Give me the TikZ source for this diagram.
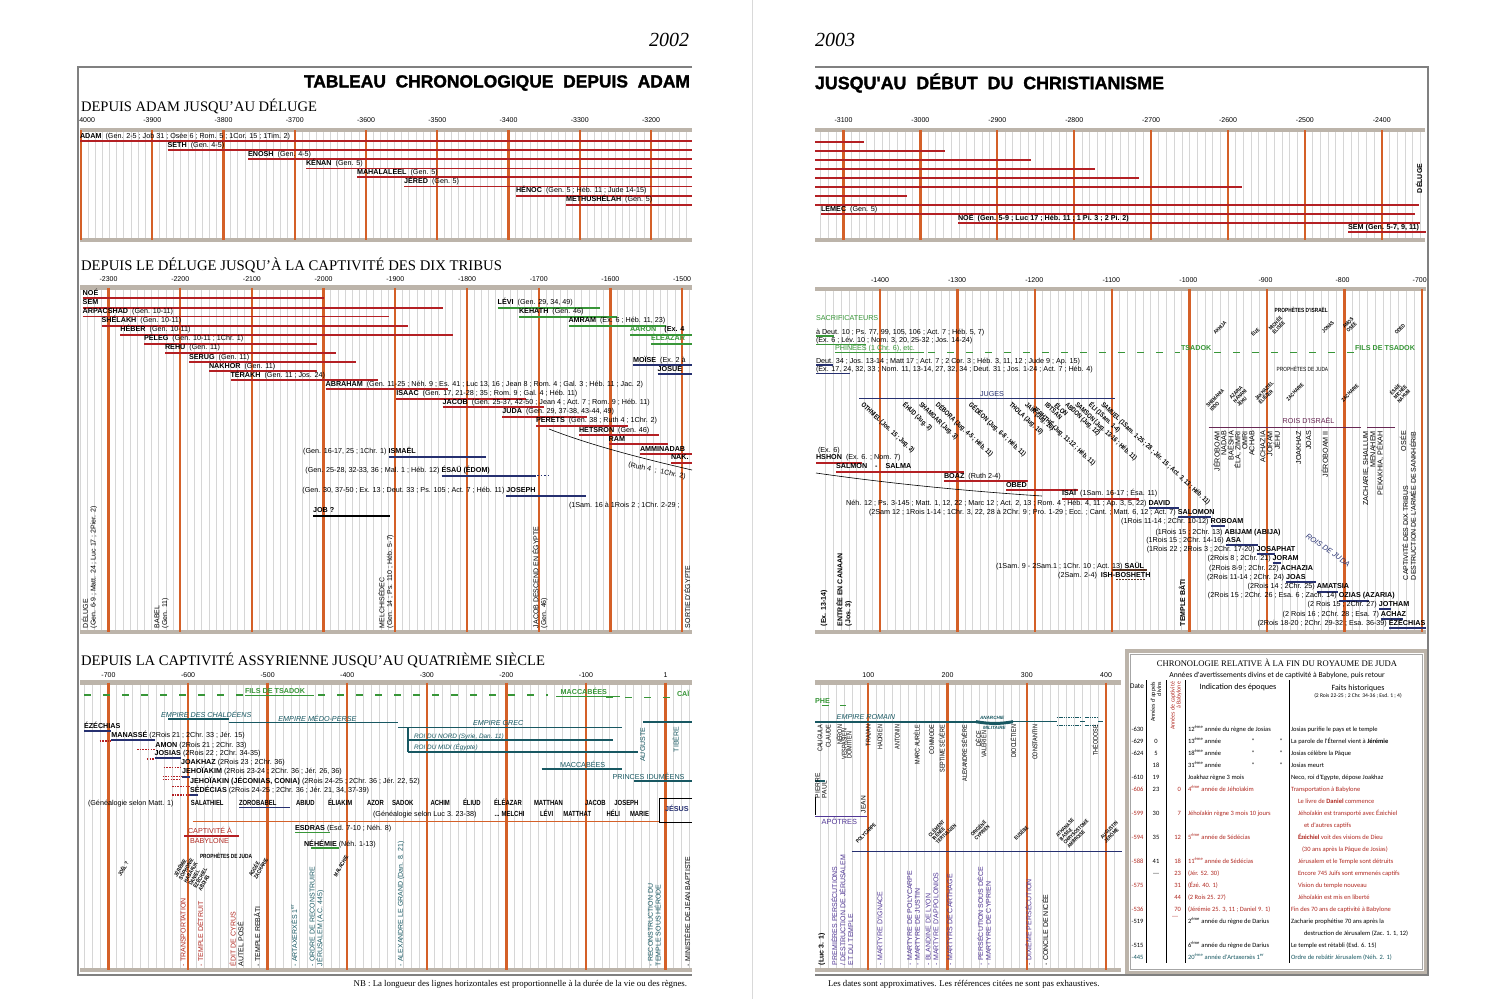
\documentclass[tikz,border=0pt]{standalone}
\usepackage{fontspec}
\usepackage{graphicx}
\setmainfont{Liberation Serif}
\newfontfamily\ls{Liberation Sans}
\newfontfamily\lsc{Liberation Sans}[FakeStretch=0.8]
\newfontfamily\tabf{Carlito}
\newfontfamily\heavy{Liberation Sans}[FakeBold=1.6]
\definecolor{org}{RGB}{212,96,40}
\definecolor{dred}{RGB}{180,32,36}
\definecolor{grn}{RGB}{56,150,56}
\definecolor{navy}{RGB}{38,48,112}
\definecolor{tealc}{RGB}{24,88,98}
\definecolor{purp}{RGB}{82,56,150}
\definecolor{plum}{RGB}{104,40,84}
\definecolor{barc}{RGB}{188,180,170}
\definecolor{gridc}{RGB}{214,214,214}
\definecolor{framec}{RGB}{128,128,128}
\definecolor{tred}{RGB}{176,40,32}
\definecolor{brn}{RGB}{90,50,30}
\newcommand\lf[5]{\draw[#1] (#2,#4) -- (#3,#4); \node[lbl] at (#2,#4-2.8) {#5};}
\newcommand\band[7]{\foreach \i in {0,...,#3} {\draw[gridl] ({#1+\i*#2},#4) -- ({#1+\i*#2},#5);} \draw[bar] (#6,#4) -- (#7,#4); \draw[bar] (#6,#5) -- (#7,#5);}
\newcommand\cents[5]{\foreach \i in {0,...,#3} {\draw[cent] ({#1+\i*#2},#4) -- ({#1+\i*#2},#5);}}
\newcommand\axisl[4]{\foreach \v [count=\i from 0] in {#4} {\node[axl] at ({#1+\i*#2},#3) {\v};}}
\newcommand\trow[8]{%
 \node[tbe,text=#2] at (1143.5,#1) {#3};
 \node[tbc] at (1156,#1) {#4};
 \node[tbe,text=tred] at (1181,#1) {#5};
 \node[tb,text=#2] at (1188,#1) {#6};
 \node[tb,text=#2] at (#7,#1) {#8};}
\begin{document}
\begin{tikzpicture}[x=1pt,y=-1pt,
 every node/.style={inner sep=0pt,outer sep=0pt},
 gridl/.style={gridc,line width=0.55pt},
 bar/.style={barc,line width=4.5pt},
 cent/.style={org,line width=2.3pt},
 rl/.style={dred,line width=2pt},
 rlt/.style={dred,line width=1.1pt},
 gl/.style={grn,line width=1.8pt},
 bl/.style={navy,line width=1.8pt},
 blk/.style={black,line width=1.8pt},
 tl/.style={tealc,line width=1.6pt},
 pl/.style={purp,line width=1.4pt},
 rdot/.style={dred,line width=1.3pt,dash pattern=on 1.5pt off 1.2pt},
 gdash/.style={grn,line width=1.2pt,dash pattern=on 7pt off 12pt},
 lbl/.style={font=\ls\fontsize{7.2}{8.5}\selectfont,anchor=base west},
 lble/.style={lbl,anchor=base east},
 axl/.style={font=\ls\fontsize{7}{8}\selectfont},
 vl/.style={font=\ls\fontsize{7}{7.8}\selectfont,rotate=90,anchor=west,align=left},
 vh/.style={font=\ls\fontsize{7.2}{7.6}\selectfont,rotate=90,anchor=east,align=right},
 vhc/.style={font=\lsc\fontsize{6.8}{7.2}\selectfont,rotate=90,anchor=east,align=right},
 dg/.style={font=\lsc\bfseries\fontsize{5.3}{5.3}\selectfont,rotate=45,align=left},
 dgs/.style={font=\lsc\bfseries\fontsize{5.6}{5.6}\selectfont,rotate=60,align=left},
 jd/.style={font=\lsc\bfseries\fontsize{6.9}{7}\selectfont,rotate=-43,anchor=west},
 gen/.style={lbl,font=\lsc\bfseries\fontsize{7.4}{8}\selectfont},
 tb/.style={font=\tabf\fontsize{6.5}{7}\selectfont,anchor=base west},
 tbe/.style={tb,anchor=base east},
 tbc/.style={tb,anchor=base}]
\useasboundingbox (0,0) rectangle (1499,999);
\fill[white] (0,0) rectangle (1499,999);
\draw[gray!30,line width=1pt] (752,0) -- (752,999);

% ================= LEFT PAGE =================
\node[font=\itshape\fontsize{20}{22}\selectfont,anchor=east] at (689,40) {2002};
\node[anchor=east] at (690,83) {\resizebox{386pt}{!}{\heavy\bfseries TABLEAU~~CHRONOLOGIQUE~~DEPUIS~~ADAM}};
\begin{scope}
\clip (70,60) rectangle (692,999);
% ---- band 1
\node[anchor=west] at (81,106) {\resizebox{236pt}{!}{\fontsize{12}{14}\selectfont DEPUIS ADAM JUSQU'AU DÉLUGE}};
\band{81}{7.125}{85}{130}{240}{80}{692}
\cents{81}{71.25}{8}{130}{240}
\node[axl,anchor=west] at (77,120) {-4000};
\axisl{152.25}{71.25}{120}{-3900,-3800,-3700,-3600,-3500,-3400,-3300,-3200}
\lf{rl}{80}{692}{141}{\textbf{ADAM}\ \ (Gen. 2-5 ; Job 31 ; Osée 6 ; Rom. 5 ; 1Cor. 15 ; 1Tim. 2)}
\lf{rl}{167.6}{692}{150}{\textbf{SETH}\ \ (Gen. 4-5)}
\lf{rl}{248}{692}{159.3}{\textbf{ENOSH}\ \ (Gen. 4-5)}
\lf{rlt}{306}{692}{168.4}{\textbf{KÉNAN}\ \ (Gen. 5)}
\lf{rl}{357}{692}{177.4}{\textbf{MAHALALEEL}\ \ (Gen. 5)}
\lf{rlt}{404}{692}{186.5}{\textbf{JÉRED}\ \ (Gen. 5)}
\lf{rl}{516}{692}{195.6}{\textbf{HÉNOC}\ \ (Gen. 5 ; Héb. 11 ; Jude 14-15)}
\lf{rl}{566}{692}{204.7}{\textbf{METHUSHÉLAH}\ \ (Gen. 5)}
% ---- band 2
\node[anchor=west] at (81,265) {\resizebox{421pt}{!}{\fontsize{12}{14}\selectfont DEPUIS LE DÉLUGE JUSQU'À LA CAPTIVITÉ DES DIX TRIBUS}};
\band{79.8}{7.17}{85}{287.5}{632}{80}{692}
\cents{108.5}{71.7}{8}{287.5}{632}
\axisl{108.5}{71.7}{279}{-2300,-2200,-2100,-2000,-1900,-1800,-1700,-1600,-1500}
\lf{rl}{82.7}{323.6}{298.3}{\textbf{NOÉ}}
\lf{rl}{82.7}{442.7}{307.7}{\textbf{SEM}}
\lf{rlt}{82.7}{388.5}{316.7}{\textbf{ARPACSHAD}\ \ (Gen. 10-11)}
\lf{rl}{101.6}{408}{325.7}{\textbf{SHÉLAKH}\ \ (Gen. 10-11)}
\lf{rl}{120.4}{453.3}{334.7}{\textbf{HÉBER}\ \ (Gen. 10-11)}
\lf{rl}{144}{317}{343.7}{\textbf{PÉLEG}\ \ (Gen. 10-11 ; 1Chr. 1)}
\lf{rl}{165}{336}{352.7}{\textbf{REHU}\ \ (Gen. 11)}
\lf{rlt}{189}{355.5}{362}{\textbf{SERUG}\ \ (Gen. 11)}
\lf{rlt}{209}{317}{371}{\textbf{NAKHOR}\ \ (Gen. 11)}
\lf{rl}{230.5}{377.5}{380.3}{\textbf{TÉRAKH}\ \ (Gen. 11 ; Jos. 24)}
\lf{rl}{325.6}{448}{389.3}{\textbf{ABRAHAM}\ \ (Gen. 11-25 ; Néh. 9 ; Es. 41 ; Luc 13, 16 ; Jean 8 ; Rom. 4 ; Gal. 3 ; Héb. 11 ; Jac. 2)}
\lf{rl}{396.3}{526}{398.7}{\textbf{ISAAC}\ \ (Gen. 17, 21-28 ; 35 ; Rom. 9 ; Gal. 4 ; Héb. 11)}
\lf{rl}{442.7}{543.7}{407.3}{\textbf{JACOB}\ \ (Gen. 25-37, 42-50 ; Jean 4 ; Act. 7 ; Rom. 9 ; Héb. 11)}
\lf{rl}{502.4}{587.3}{416.7}{\textbf{JUDA}\ \ (Gen. 29, 37-38, 43-44, 49)}
\lf{rl}{536}{628}{425.7}{\textbf{PERETS}\ \ (Gen. 38 ; Ruth 4 ; 1Chr. 2)}
\lf{rl}{579}{659}{435}{\textbf{HETSRON}\ \ (Gen. 46)}
\lf{rlt}{608.6}{667.6}{444}{\textbf{RAM}}
\lf{rl}{640}{692}{454}{\textbf{AMMINADAB}}
\lf{rl}{671}{692}{462.7}{\textbf{NAK.}}
\lf{gl}{497.7}{600}{307.7}{\textbf{LÉVI}\ \ (Gen. 29, 34, 49)}
\lf{gl}{519}{617}{316.7}{\textbf{KEHATH}\ \ (Gen. 46)}
\lf{gl}{568.5}{666}{325.7}{\textbf{AMRAM}\ \ (Ex. 6 ; Héb. 11, 23)}
\lf{gl}{630}{692}{334.7}{\textcolor{grn}{\textbf{AARON}}\ \ \ \ \textbf{(Ex. 4}}
\lf{gl}{651}{692}{343.7}{\textcolor{grn}{\textbf{ÉLÉAZAR}}}
\lf{bl}{633}{692}{365.3}{\textbf{MOÏSE}\ \ (Ex. 2 à}
\lf{bl}{657.7}{692}{374.3}{\textbf{JOSUÉ}}
\draw[black,line width=0.6pt] (549,429) .. controls (590,445) and (640,458) .. (692,470);
\node[font=\ls\fontsize{7}{8}\selectfont,rotate=-12] at (657,471) {(Ruth 4~ ;~ 1Chr. 2)};
\node[lble] at (386.5,453.9) {(Gen. 16-17, 25 ; 1Chr. 1)};
\lf{bl}{388.5}{486}{456.7}{\textbf{ISMAËL}}
\node[lble] at (439.5,472.9) {(Gen. 25-28, 32-33, 36 ; Mal. 1 ; Héb. 12)};
\lf{bl}{441.5}{536}{475.7}{\textbf{ÉSAÜ (ÉDOM)}}
\draw[navy,line width=1.2pt,dash pattern=on 1.5pt off 2pt] (537,475.7) -- (551,475.7);
\node[lble] at (504.4,492.9) {(Gen. 30, 37-50 ; Ex. 13 ; Deut. 33 ; Ps. 105 ; Act. 7 ; Héb. 11)};
\lf{bl}{506.4}{585.8}{495.7}{\textbf{JOSEPH}}
\node[lbl] at (569,507.5) {(1Sam. 16 à 1Rois 2 ; 1Chr. 2-29 ;};
\lf{blk}{313}{390.4}{515.7}{\textbf{JOB ?}}
\node[vl] at (89.5,628) {DÉLUGE\\(Gen. 6-9 ; Matt. 24 ; Luc 17 ; 2Pier. 2)};
\node[vl] at (161.5,628) {BABEL\\(Gen. 11)};
\node[vl] at (386,628) {MELCHISÉDEC\\(Gen. 14 ; Ps. 110 ; Héb. 5-7)};
\node[vl] at (540,628) {JACOB DESCEND EN ÉGYPTE\\(Gen. 46)};
\node[vl] at (687,628) {SORTIE D'ÉGYPTE};
% ---- band 3
\node[anchor=west] at (81,660) {\resizebox{464pt}{!}{\fontsize{12}{14}\selectfont DEPUIS LA CAPTIVITÉ ASSYRIENNE JUSQU'AU QUATRIÈME SIÈCLE}};
\band{84.6}{7.957}{76}{682.5}{970}{80}{692}
\cents{108.5}{79.57}{7}{682.5}{970}
\axisl{108.5}{79.57}{675}{-700,-600,-500,-400,-300,-200,-100,1}
\draw[gdash] (84,695) -- (243,695);
\draw[gdash] (318,695) -- (548,695);
\draw[gdash] (606,697.5) -- (672,697.5);
\node[lbl,text=grn,font=\ls\bfseries\fontsize{7.2}{8}\selectfont] at (245,693.5) {FILS DE TSADOK};
\draw[grn,line width=1pt] (245,695) -- (314,695);
\node[lbl,text=grn,font=\ls\bfseries\fontsize{7.2}{8}\selectfont] at (560.6,694.5) {MACCABÉES};
\draw[grn,line width=1pt] (556,696.5) -- (620,696.5);
\node[lbl,text=grn,font=\ls\bfseries\fontsize{7.2}{8}\selectfont] at (677,696) {CAÏ};
% empires
\draw[tl] (168.4,719) -- (229.3,719);
\node[lbl,text=tealc,font=\ls\itshape\fontsize{7.2}{8}\selectfont] at (161,717) {EMPIRE DES CHALDÉENS};
\draw[tl] (228.5,722.3) -- (398.3,722.3);
\node[lbl,text=tealc,font=\ls\itshape\fontsize{7.2}{8}\selectfont] at (278.4,721) {EMPIRE MÉDO-PERSE};
\draw[tl] (398.3,727.3) -- (621.5,727.3);
\node[lbl,text=tealc,font=\ls\itshape\fontsize{7.2}{8}\selectfont] at (473,725.6) {EMPIRE GREC};
\draw[tl] (643,721.7) -- (692,721.7);
\draw[tl] (408,727.3) -- (408,751.7);
\draw[tl] (408,740) -- (612.5,740);
\node[lbl,text=tealc,font=\ls\itshape\fontsize{6.4}{7}\selectfont] at (414,738.2) {ROI DU NORD (Syrie, Dan. 11)};
\draw[tl] (408,751.7) -- (638,751.7);
\node[lbl,text=tealc,font=\ls\itshape\fontsize{6.4}{7}\selectfont] at (414,749.8) {ROI DU MIDI (Égypte)};
\draw[tl] (541.7,769) -- (622,769);
\node[lbl,text=tealc] at (560,767.3) {MACCABÉES};
\draw[tl] (634,781) -- (692,781);
\node[lbl,text=tealc] at (612.5,779) {PRINCES IDUMÉENS};
\node[vl,text=tealc] at (642.7,761.7) {AUGUSTE};
\node[vl,text=tealc] at (675.5,752) {TIBÈRE};
% kings of Juda
\lf{bl}{84}{111.4}{731}{\textbf{ÉZÉCHIAS}}
\draw[rdot] (99.6,741) -- (111.4,741);
\lf{bl}{111.4}{154.6}{740}{\textbf{MANASSÉ} (2Rois 21 ; 2Chr. 33 ; Jér. 15)}
\draw[rdot] (137,749.3) -- (154.6,749.3);
\node[lbl] at (155.4,747.6) {\textbf{AMON} (2Rois 21 ; 2Chr. 33)};
\draw[rdot] (146.8,759) -- (154.6,759);
\lf{bl}{154.6}{181}{758.3}{\textbf{JOSIAS} (2Rois 22 ; 2Chr. 34-35)};
\draw[rdot] (163.7,767.3) -- (181,767.3);
\node[lbl] at (181,764.3) {\textbf{JOAKHAZ} (2Rois 23 ; 2Chr. 36)};
\draw[rdot] (162.5,776.7) -- (182,776.7);
\lf{bl}{182}{190}{776.7}{\textbf{JEHOÏAKIM} (2Rois 23-24 ; 2Chr. 36 ; Jér. 26, 36)}
\draw[rdot] (162.5,779.5) -- (180,779.5);
\node[lbl] at (190,783.6) {\textbf{JEHOÏAKIN (JÉCONIAS, CONIA)} (2Rois 24-25 ; 2Chr. 36 ; Jér. 22, 52)};
\draw[rdot] (172,786.7) -- (190,786.7);
\draw[rdot] (172,795) -- (190,795);
\lf{bl}{190}{198}{795}{\textbf{SÉDÉCIAS} (2Rois 24-25 ; 2Chr. 36 ; Jér. 21, 34, 37-39)}
% genealogies
\node[lbl] at (88,805.3) {(Généalogie selon Matt. 1)};
\node[gen] at (190.8,805.3) {SALATHIEL};
\node[gen] at (239,805.3) {ZOROBABEL};
\draw[navy,line width=1.4pt] (239,807.5) -- (290,807.5);
\node[gen] at (296,805.3) {ABIUD};
\node[gen] at (328,805.3) {ÉLIAKIM};
\node[gen] at (367,805.3) {AZOR};
\node[gen] at (392,805.3) {SADOK};
\node[gen] at (430.5,805.3) {ACHIM};
\node[gen] at (463,805.3) {ÉLIUD};
\node[gen] at (494,805.3) {ÉLÉAZAR};
\node[gen] at (534,805.3) {MATTHAN};
\node[gen] at (585,805.3) {JACOB};
\node[gen] at (614.4,805.3) {JOSEPH};
\node[lbl] at (373,816.8) {(Généalogie selon Luc 3. 23-38)};
\node[gen] at (494.6,816.8) {... MELCHI};
\node[gen] at (540,816.8) {LÉVI};
\node[gen] at (563.4,816.8) {MATTHAT};
\node[gen] at (606.6,816.8) {HÉLI};
\node[gen] at (630,816.8) {MARIE};
\draw[org,line width=1.5pt] (192.8,821.7) -- (659,821.7);
\draw[black,line width=1pt] (692,798) -- (659,798) -- (659,822) -- (692,822);
\node[lbl,text=navy,font=\ls\bfseries\fontsize{7.2}{8}\selectfont] at (665,811.5) {JÉSUS};
% lower band 3
\draw[dred,line width=1.6pt] (184,835.7) -- (239,835.7);
\node[lbl,text=tred] at (188,833.3) {CAPTIVITÉ À};
\node[lbl,text=tred] at (190,843.6) {BABYLONE};
\draw[grn,line width=1.5pt] (295,832.5) -- (329.5,832.5);
\node[lbl] at (295,830.6) {\textbf{ESDRAS} (Esd. 7-10 ; Néh. 8)};
\draw[grn,line width=1.5pt] (311,848) -- (339,848);
\node[lbl] at (304,846) {\textbf{NÉHÉMIE} (Néh. 1-13)};
\node[lbl,font=\lsc\bfseries\fontsize{6}{7}\selectfont] at (200,858) {PROPHÈTES DE JUDA};
\node[dgs] at (123,869) {JOËL ?};
\node[dgs] at (193,873) {JÉRÉMIE\\SOPHONIE\\HABAKUK\\DANIEL\\ÉZÉCHIEL\\ABDIAS};
\node[dgs] at (258,867) {AGGÉE\\ZACHARIE};
\node[dgs] at (341,866) {MALACHIE};
\node[vl,text=tred] at (183.3,966) {- TRANSPORTATION};
\node[vl,text=tred] at (200,966) {- TEMPLE DÉTRUIT};
\node[vl] at (236.4,966) {\textcolor{tred}{ÉDIT DE CYRUS}\\AUTEL POSÉ};
\node[vl] at (257,966) {- TEMPLE REBÂTI};
\node[vl,text=tealc] at (294,966) {- ARTAXERXÈS 1\textsuperscript{er}};
\node[vl,text=tealc] at (316.7,966) {- ORDRE DE RECONSTRUIRE\\JÉRUSALEM (A.C. 445)};
\node[vl,text=tealc] at (401,966) {- ALEXANDRE LE GRAND (Dan. 8. 21)};
\node[vl,text=tealc] at (654.4,966) {- RECONSTRUCTION DU\\TEMPLE SOUS HÉRODE};
\node[vl] at (687,966) {- MINISTÈRE DE JEAN BAPTISTE};
\end{scope}
\node[font=\fontsize{8.8}{10}\selectfont,anchor=east] at (687,984) {NB : La longueur des lignes horizontales est proportionnelle à la durée de la vie ou des règnes.};
\draw[framec,line width=1.6pt] (692,67) -- (78,67) -- (78,975) -- (692,975);

% ================= RIGHT PAGE =================
\node[font=\itshape\fontsize{20}{22}\selectfont,anchor=west] at (815,40) {2003};
\node[anchor=west] at (815,83) {\resizebox{349pt}{!}{\heavy\bfseries JUSQU'AU~~DÉBUT~~DU~~CHRISTIANISME}};
\begin{scope}
\clip (812,60) rectangle (1430,999);
% ---- band 1
\band{820.4}{7.69}{78}{130}{240}{815}{1425}
\cents{843.5}{76.9}{7}{130}{240}
\axisl{843.5}{76.9}{120}{-3100,-3000,-2900,-2800,-2700,-2600,-2500,-2400}
\draw[rl] (815,141.6) -- (864,141.6);
\draw[rl] (815,150.7) -- (945,150.7);
\draw[rl] (815,159.8) -- (1030.6,159.8);
\draw[rl] (815,168.8) -- (1095,168.8);
\draw[rl] (815,177.9) -- (1139,177.9);
\draw[rl] (815,187) -- (1241.6,187);
\draw[rl] (815,196) -- (907,196);
\draw[rl] (815,205.1) -- (1419,205.1);
\lf{rl}{821}{1415}{214.2}{\textbf{LEMEC}\ \ (Gen. 5)}
\lf{rl}{958}{1420}{223}{\textbf{NOÉ\ \ (Gen. 5-9 ; Luc 17 ; Héb. 11 ;\ 1 Pi. 3 ; 2 Pi. 2)}}
\lf{rl}{1348}{1426}{232}{\textbf{SEM (Gen. 5-7, 9, 11)}}
\node[vl,font=\ls\bfseries\fontsize{7}{8}\selectfont] at (1419,193) {DÉLUGE};
% ---- band 2
\band{825.6}{7.74}{77}{289}{632}{815}{1426}
\cents{880}{77.4}{7}{289}{632}
\axisl{880}{77.1}{280.5}{-1400,-1300,-1200,-1100,-1000,-900,-800,-700}
\node[lbl,text=grn] at (816,320.8) {SACRIFICATEURS};
\node[lbl] at (816,334.2) {à Deut. 10 ; Ps. 77, 99, 105, 106 ; Act. 7 ; Héb. 5, 7)};
\draw[grn,line width=1.3pt] (816,336) -- (834,336);
\node[lbl] at (816,342.5) {(Ex. 6 ; Lév. 10 ; Nom. 3, 20, 25-32 ; Jos. 14-24)};
\draw[grn,line width=1.3pt] (816,344.5) -- (866,344.5);
\node[lbl,text=grn] at (835,350.5) {PHINÉES (1 Chr. 6), etc.};
\draw[grn,line width=1pt] (835,352.3) -- (924,352.3);
\draw[gdash] (928,352.3) -- (1180,352.3);
\node[lbl,text=grn,font=\ls\bfseries\fontsize{7.2}{8}\selectfont] at (1181,350.8) {TSADOK};
\draw[gdash] (1214,352.3) -- (1354,352.3);
\node[lbl,text=grn,font=\ls\bfseries\fontsize{7.2}{8}\selectfont] at (1355,350.8) {FILS DE TSADOK};
\node[lbl] at (816,363.2) {Deut. 34 ; Jos. 13-14 ; Matt 17 ; Act. 7 ; 2 Cor. 3 ; Héb. 3, 11, 12 ; Jude 9 ; Ap. 15)};
\draw[navy,line width=1.3pt] (816,365) -- (833,365);
\node[lbl] at (816,371.5) {(Ex. 17, 24, 32, 33 ; Nom. 11, 13-14, 27, 32, 34 ; Deut. 31 ; Jos. 1-24 ; Act. 7 ; Héb. 4)};
\draw[navy,line width=1.3pt] (816,373.5) -- (850,373.5);
\node[lbl,font=\lsc\bfseries\fontsize{6}{7}\selectfont] at (1274.7,312.5) {PROPHÈTES D'ISRAËL};
\node[lbl,font=\lsc\fontsize{6}{7}\selectfont] at (1276.7,371.5) {PROPHÈTES DE JUDA};
\node[dg] at (1220,328) {AKHIJA};
\node[dg] at (1255,332) {ÉLIE};
\node[dg] at (1277,325) {MICHÉE\\ÉLISÉE};
\node[dg] at (1328,327) {JONAS};
\node[dg] at (1350,325) {AMOS\\OSÉE};
\node[dg] at (1400,329) {ODED};
\node[dg] at (1217,400) {SHEMAHIA\\IDDO};
\node[dg] at (1240,396) {AZARIA\\HANANI\\JÉHU};
\node[dg] at (1266,393) {JAKHAZIEL\\ÉLIÉZER};
\node[dg] at (1295,392) {ZACHARIE};
\node[dg] at (1350,393) {ZACHARIE};
\node[dg] at (1400,392) {ÉSAÏE\\MICHÉE\\NAHUM};
\draw[navy,line width=1.6pt] (859,398.3) -- (1115,398.3);
\node[lbl,text=navy] at (980,396.3) {JUGES};
\node[jd] at (862,404) {OTHNIEL (Jos. 15 ; Jug. 3)};
\node[jd] at (904,404) {ÉHUD (Jug. 3)};
\node[jd] at (920,404) {SHAMGAR (Jug. 3)};
\node[jd] at (937,404) {DÉBORA (Jug. 4-5 ; Héb. 11)};
\node[jd] at (970,404) {GÉDÉON (Jug. 6-8 ; Héb. 11)};
\node[jd] at (1010,404) {THOLA (Jug. 10)};
\node[jd] at (1026,404) {JAÏR (Jug. 10)};
\node[jd] at (1034,408) {JEPHTHÉ (Jug. 11-12 ; Héb. 11)};
\node[jd] at (1046,404) {IBTSAN};
\node[jd] at (1056,404) {ÉLON};
\node[jd] at (1066,404) {ABDON (Jug. 12)};
\node[jd] at (1076,404) {SAMSON (Jug. 13-16 ; Héb. 11)};
\node[jd] at (1090,404) {ÉLI (1Sam. 1-4)};
\node[jd] at (1102,404) {SAMUEL (1Sam. 1-25 ; 28 ; Jér. 15 ; Act. 3, 13 ; Héb. 11)};
\draw[plum,line width=1.6pt] (1208.6,427.3) -- (1361,427.3);
\draw[plum,line width=1.6pt] (1367,427.3) -- (1395,427.3);
\node[lbl,text=plum] at (1282.7,423.2) {ROIS D'ISRAËL};
\node[vh] at (1216.6,431) {JÉROBOAM};
\node[vh] at (1224,431) {NADAB};
\node[vh] at (1230.6,431) {BAËSHA};
\node[vh] at (1237.6,431) {ÉLA, ZIMRI};
\node[vh] at (1245,431) {OMRI};
\node[vh] at (1252,431) {ACHAB};
\node[vh] at (1263,431) {ACHAZIA};
\node[vh] at (1270,431) {JORAM};
\node[vh] at (1276.7,431) {JÉHU};
\node[vh] at (1298.7,431) {JOAKHAZ};
\node[vh] at (1308.7,431) {JOAS};
\node[vh] at (1324.8,431) {JÉROBOAM II};
\node[vh] at (1366,431) {ZACHARIE, SHALLUM};
\node[vh] at (1373,431) {MENAHEM};
\node[vh] at (1380,431) {PEKAKHIA, PÉKAH};
\node[vh] at (1403,431) {OSÉE};
\node[vl,font=\ls\fontsize{7}{7.6}\selectfont] at (1409,580) {CAPTIVITÉ DES DIX TRIBUS\\DESTRUCTION DE L'ARMÉE DE SANKHÉRIB};
\node[lbl] at (818,452.5) {(Ex. 6)};
\lf{rl}{816}{862}{462.7}{\textbf{HSHON}\ \ (Ex. 6. ; Nom. 7)}
\lf{rl}{836}{964}{471.7}{\textbf{SALMON\ \ \ \ -\ \ \ \ SALMA}}
\lf{rl}{944}{1028}{481.3}{\textbf{BOAZ}\ \ (Ruth 2-4)}
\lf{rl}{1006}{1078}{490}{\textbf{OBED}}
\lf{rl}{1062}{1138.5}{498.7}{\textbf{ISAÏ}\ \ (1Sam. 16-17 ; Ésa. 11)}
\draw[black,line width=0.6pt] (816,473) .. controls (900,485) and (980,492) .. (1042,496);
\node[lble] at (1146.5,505.5) {Néh. 12 ; Ps. 3-145 ; Matt. 1, 12, 22 ; Marc 12 ; Act. 2, 13 ; Rom. 4 ; Héb. 4, 11 ; Ap. 3, 5, 22)};
\lf{bl}{1148.5}{1178.5}{508.3}{\textbf{DAVID}}
\node[lble] at (1175.8,514.5) {(2Sam 12 ; 1Rois 1-14 ; 1Chr. 3, 22, 28 à 2Chr. 9 ; Pro. 1-29 ; Ecc. ; Cant. ; Matt. 6, 12 ; Act. 7)};
\lf{bl}{1177.8}{1210.6}{517.3}{\textbf{SALOMON}}
\node[lble] at (1208.6,523.2) {(1Rois 11-14 ; 2Chr. 10-12)};
\lf{bl}{1210.6}{1224.6}{526}{\textbf{ROBOAM}}
\node[lble] at (1222.6,534.5) {(1Rois 15 ; 2Chr. 13)};
\node[lbl] at (1224.6,534.5) {\textbf{ABIJAM (ABIJA)}};
\node[lble] at (1223.8,542.2) {(1Rois 15 ; 2Chr. 14-16)};
\lf{bl}{1225.8}{1257.9}{545}{\textbf{ASA}}
\node[lble] at (1254.7,551.5) {(1Rois 22 ; 2Rois 3 ; 2Chr. 17-20)};
\lf{bl}{1256.7}{1274.7}{554.3}{\textbf{JOSAPHAT}}
\node[lble] at (1270.7,560.5) {(2Rois 8 ; 2Chr. 21)};
\lf{bl}{1272.7}{1280.7}{563.3}{\textbf{JORAM}}
\node[lble] at (1278.7,570.5) {(2Rois 8-9 ; 2Chr. 22)};
\node[lbl] at (1280.7,570.5) {\textbf{ACHAZIA}};
\node[lble] at (1284,579.5) {(2Rois 11-14 ; 2Chr. 24)};
\lf{bl}{1286}{1315.6}{582.3}{\textbf{JOAS}}
\node[lble] at (1314.8,588.8) {(2Rois 14 ; 2Chr. 25)};
\lf{bl}{1316.8}{1338}{591.6}{\textbf{AMATSIA}}
\node[lble] at (1336.8,597.8) {(2Rois 15 ; 2Chr. 26 ; Esa. 6 ; Zach. 14)};
\lf{bl}{1338.8}{1368.8}{600.6}{\textbf{OZIAS (AZARIA)}}
\node[lble] at (1376.8,606.5) {(2 Rois 15 ; 2Chr. 27)};
\lf{bl}{1378.9}{1390.9}{609.3}{\textbf{JOTHAM}}
\node[lble] at (1378.9,616) {(2 Rois 16 ; 2Chr. 28 ; Esa. 7)};
\lf{bl}{1380.9}{1402.9}{618.8}{\textbf{ACHAZ}}
\node[lble] at (1386.9,625.5) {(2Rois 18-20 ; 2Chr. 29-32 ; Esa. 36-39)};
\lf{bl}{1388.9}{1426}{628.3}{\textbf{ÉZÉCHIAS}}
\node[text=navy,font=\ls\itshape\fontsize{7.4}{8}\selectfont,rotate=-35] at (1328,550) {ROIS DE JUDA};
\draw[brn,line width=1.8pt] (1112,570.3) -- (1146.5,570.3);
\node[lble] at (1122.5,568.6) {(1Sam. 9 - 2Sam.1 ; 1Chr. 10 ; Act. 13)};
\node[lbl] at (1124.5,568.6) {\textbf{SAÜL}};
\draw[brn,line width=1.2pt,dash pattern=on 1.5pt off 1.5pt] (1116,579.5) -- (1146,579.5);
\node[lble] at (1150.5,577.5) {(2Sam. 2-4)\ \ \textbf{ISH-BOSHETH}};
\node[vl,font=\ls\bfseries\fontsize{7}{8}\selectfont] at (824,626) {(Ex. 13-14)};
\node[vl,font=\ls\bfseries\fontsize{7}{7.8}\selectfont] at (844,626) {ENTRÉE EN CANAAN\\(Jos. 3)};
\node[vl,font=\ls\bfseries\fontsize{7}{8}\selectfont] at (1182,626) {TEMPLE BÂTI};
% ---- band 3
\band{820.75}{7.925}{37}{682.5}{970}{815}{1121}
\cents{868.3}{79.25}{3}{682.5}{970}
\axisl{868.3}{79.25}{675}{100,200,300,400}
\node[lbl,text=grn,font=\ls\bfseries\fontsize{7.2}{8}\selectfont] at (815,703.5) {PHE};
\draw[grn,line width=1.2pt] (822,705.5) -- (829,705.5);
\draw[grn,line width=1.2pt] (840,705.5) -- (846,705.5);
\draw[tl] (815,721.7) -- (976.7,721.7);
\node[lbl,text=tealc,font=\ls\itshape\fontsize{7.2}{8}\selectfont] at (836.7,719.2) {EMPIRE ROMAIN};
\draw[tealc,line width=3pt] (976,721.7) .. controls (990,724) and (1000,724) .. (1013,721.7);
\node[lbl,text=tealc,font=\ls\bfseries\itshape\fontsize{4.6}{5}\selectfont] at (980,719.5) {ANARCHIE};
\node[lbl,text=tealc,font=\ls\bfseries\itshape\fontsize{4.6}{5}\selectfont] at (983,729) {MILITAIRE};
\draw[tealc,line width=0.8pt] (1013,721.7) -- (1056.7,721.7);
\draw[tealc,line width=0.8pt,dash pattern=on 1.5pt off 0.8pt] (1056.7,717.7) -- (1080,717.7) (1056.7,725.7) -- (1080,725.7) (1085,717.7) -- (1098,717.7) (1085,725.7) -- (1098,725.7);
\draw[tealc,line width=1.4pt] (1080,721.7) -- (1085,721.7) (1098,721.7) -- (1103,721.7);
\node[vhc] at (820,725) {CALIGULA};
\node[vhc] at (828.3,725) {CLAUDE};
\node[vhc] at (839.3,725) {NÉRON};
\node[vhc] at (844.3,729) {VESPASIEN};
\node[vhc] at (849.3,732) {DOMITIEN};
\node[vhc] at (868.3,725) {TRAJAN};
\node[vhc] at (880,725) {HADRIEN};
\node[vhc] at (897.3,725) {ANTONIN};
\node[vhc] at (916.7,725) {MARC AURÈLE};
\node[vhc] at (931.7,725) {COMMODE};
\node[vhc] at (941.7,725) {SEPTIME SÉVÈRE};
\node[vhc] at (964.3,725) {ALEXANDRE SÉVÈRE};
\node[vhc] at (978.3,731) {DÈCE};
\node[vhc] at (983.3,731) {VALÉRIEN};
\node[vhc] at (1013.3,725) {DIOCLÉTIEN};
\node[vhc] at (1035,725) {CONSTANTIN};
\node[vhc] at (1095,725) {THÉODOSE};
\draw[tealc,line width=1.6pt] (815,781) -- (825,781);
\draw[black,line width=0.9pt] (815,797) -- (815,815);
\node[vl,font=\ls\fontsize{6.6}{6.8}\selectfont] at (821,798) {PIERRE\\PAUL};
\node[vl,font=\ls\fontsize{6.6}{6.8}\selectfont] at (863.3,813) {JEAN};
\draw[pl] (815,816.7) -- (866.7,816.7);
\node[lbl,text=purp,font=\ls\fontsize{7.4}{8}\selectfont] at (821.7,824.5) {APÔTRES};
\node[dg] at (866,833) {POLYCARPE};
\node[dg] at (942,830) {CLÉMENT\\IRÉNÉE\\TERTULLIEN};
\node[dg] at (980,830) {ORIGÈNE\\CYPRIEN};
\node[dg] at (1021,833) {EUSÈBE};
\node[dg] at (1074,830) {ATHANASE\\BASILE\\CHRYSOSTOME\\AMBROISE};
\node[dg] at (1111,832) {AUGUSTIN\\JÉRÔME};
\draw[navy,line width=1pt] (851.7,851) -- (1121.7,851);
\node[vl,font=\ls\bfseries\fontsize{7}{8}\selectfont] at (821.7,965) {(Luc 3. 1)};
\node[vl,text=purp] at (834,965) {PREMIÈRES PERSÉCUTIONS};
\node[vl,text=purp] at (846.3,965) {/ DESTRUCTION DE JÉRUSALEM\\ET DU TEMPLE};
\node[vl,text=purp] at (880,965) {- MARTYRE D'IGNACE};
\node[vl,text=purp] at (913.5,965) {- MARTYRE DE POLYCARPE\\- MARTYRE DE JUSTIN};
\node[vl,text=purp] at (932,965) {- BLANDINE DE LYON\\- MARTYRE D'APPOLONIOS};
\node[vl,text=purp] at (950,965) {- MARTYRS DE CARTHAGE};
\node[vl,text=purp] at (984,965) {- PERSÉCUTION SOUS DÈCE\\- MARTYRE DE CYPRIEN};
\node[vl,text=purp] at (1028.3,965) {- DIXIÈME PERSÉCUTION};
\node[vl] at (1045,965) {- CONCILE DE NICÉE};
\end{scope}
\node[font=\fontsize{8.8}{10}\selectfont,anchor=west] at (828,984) {Les dates sont approximatives. Les références citées ne sont pas exhaustives.};

% ---- table
\fill[white] (1127,651) rectangle (1426,973);
\draw[barc,line width=3.5pt] (1127,651) rectangle (1426,973);
\draw[gray!70,line width=0.5pt] (1130.5,654.5) rectangle (1422.5,969.5);
\node[font=\fontsize{8.6}{10}\selectfont] at (1277,663) {CHRONOLOGIE RELATIVE À LA FIN DU ROYAUME DE JUDA};
\node[font=\tabf\fontsize{7.6}{9}\selectfont] at (1277,675) {Années d'avertissements divins et de captivité à Babylone, puis retour};
\node[font=\tabf\fontsize{7.2}{8}\selectfont] at (1137,686) {Date};
\node[font=\tabf\fontsize{6}{6.2}\selectfont,rotate=90,anchor=east,align=right] at (1156,682) {Années d'appels\\divins};
\node[font=\tabf\fontsize{6}{6.2}\selectfont,rotate=90,anchor=east,align=right,text=tred] at (1176,682) {Années de captivité\\à Babylone};
\node[font=\tabf\fontsize{8.2}{9}\selectfont] at (1238,687) {Indication des époques};
\node[font=\tabf\fontsize{8}{9}\selectfont] at (1358,688) {Faits historiques};
\node[font=\tabf\fontsize{5.6}{6}\selectfont] at (1358,696) {(2 Rois 22-25 ; 2 Chr. 34-36 ; Esd. 1 ; 4)};
\draw[black,line width=0.5pt] (1146,680) -- (1146,963) (1166,680) -- (1166,963) (1185,680) -- (1185,963) (1289,680) -- (1289,963);
\trow{731.5}{black}{-630}{}{}{12\textsuperscript{ème} année du règne de Josias}{1291}{Josias purifie le pays et le temple}
\trow{743.5}{black}{-629}{0}{}{13\textsuperscript{ème} année}{1291}{La parole de l'Éternel vient à \textbf{Jérémie}}
\trow{755.5}{black}{-624}{5}{}{18\textsuperscript{ème} année}{1291}{Josias célèbre la Pâque}
\trow{767.5}{black}{}{18}{}{31\textsuperscript{ème} année}{1291}{Josias meurt}
\foreach \yy in {743.5,755.5,767.5} {\node[tbc] at (1253,\yy) {"}; \node[tbc] at (1281,\yy) {"};}
\trow{779.5}{black}{-610}{19}{}{Joakhaz règne 3 mois}{1291}{Neco, roi d'Egypte, dépose Joakhaz}
\trow{791.5}{tred}{-606}{23}{0}{4\textsuperscript{ème} année de Jéhoïakim}{1291}{Transportation à Babylone}
\trow{803.5}{tred}{}{}{}{}{1298}{Le livre de \textbf{Daniel} commence}
\trow{815.5}{tred}{-599}{30}{7}{Jéhoïakin règne 3 mois 10 jours}{1298}{Jéhoïakin est transporté avec Ézéchiel}
\trow{827.5}{tred}{}{}{}{}{1304}{et d'autres captifs}
\trow{839.5}{tred}{-594}{35}{12}{5\textsuperscript{ème} année de Sédécias}{1298}{\textbf{Ézéchiel} voit des visions de Dieu}
\trow{851.5}{tred}{}{}{}{}{1302}{(30 ans après la Pâque de Josias)}
\trow{863.5}{tred}{-588}{41}{18}{11\textsuperscript{ème} année de Sédécias}{1298}{Jérusalem et le Temple sont détruits}
\trow{875.5}{tred}{}{---}{23}{(Jér. 52. 30)}{1298}{Encore 745 Juifs sont emmenés captifs}
\trow{887.5}{tred}{-575}{}{31}{(Ézé. 40. 1)}{1298}{Vision du temple nouveau}
\trow{899.5}{tred}{}{}{44}{(2 Rois 25. 27)}{1298}{Jéhoïakin est mis en liberté}
\trow{911.5}{tred}{-536}{}{70}{(Jérémie 25. 3, 11 ; Daniel 9. 1)}{1291}{Fin des 70 ans de captivité à Babylone}
\node[tbc,text=tred] at (1175,918) {---};
\trow{923.5}{black}{-519}{}{}{2\textsuperscript{ème} année du règne de Darius}{1291}{Zacharie prophétise 70 ans après la}
\trow{935.5}{black}{}{}{}{}{1304}{destruction de Jérusalem (Zac. 1. 1, 12)}
\trow{947.5}{black}{-515}{}{}{6\textsuperscript{ème} année du règne de Darius}{1291}{Le temple est rétabli (Esd. 6. 15)}
\trow{959.5}{tealc}{-445}{}{}{20\textsuperscript{ème} année d'Artaxerxès 1\textsuperscript{er}}{1291}{Ordre de rebâtir Jérusalem (Néh. 2. 1)}
\draw[framec,line width=1.6pt] (815,67) -- (1428,67) -- (1428,975) -- (815,975);
\end{tikzpicture}
\end{document}
